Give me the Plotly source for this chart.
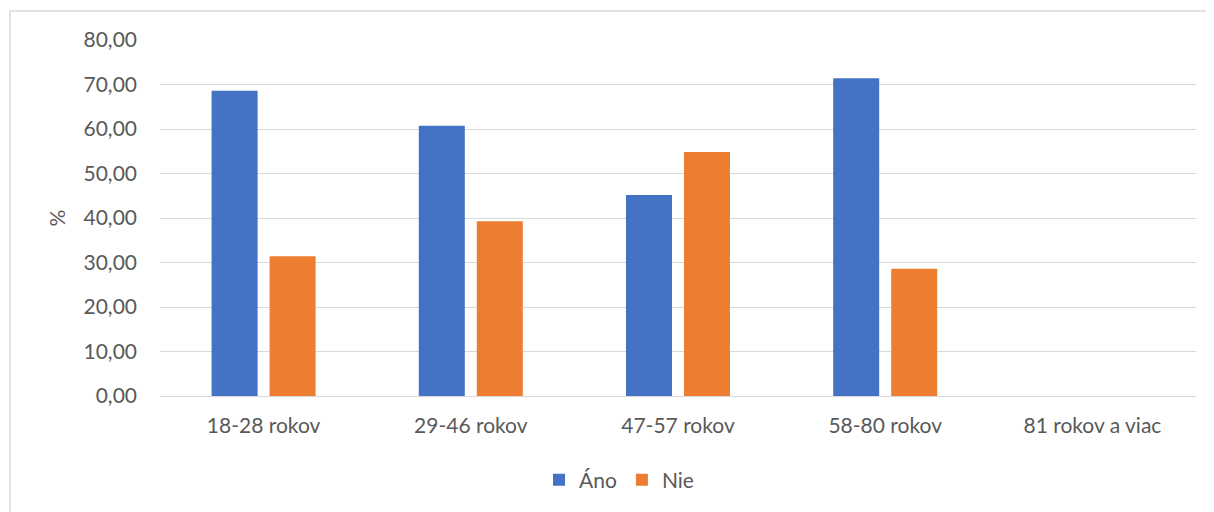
import plotly.graph_objects as go

categories = ["18-28 rokov", "29-46 rokov", "47-57 rokov", "58-80 rokov", "81 rokov a viac"]
ano = [68.57, 60.71, 45.16, 71.43, None]
nie = [31.43, 39.29, 54.84, 28.57, None]
y_ticks = [0, 10, 20, 30, 40, 50, 60, 70, 80]
y_tick_labels = ["0,00", "10,00", "20,00", "30,00", "40,00", "50,00", "60,00", "70,00", "80,00"]

FONT = "Lato, Open Sans, sans-serif"
TXT = "#595959"
FS = 21

# page body has an 8px default margin, so figure coords are offset by 8px
L, T, PW, PH = 152, 32, 1036, 356
W, H = 1214, 512

fig = go.Figure()
fig.add_trace(go.Bar(name="Áno", x=categories, y=ano, marker=dict(color="#4472C4", line=dict(width=0))))
fig.add_trace(go.Bar(name="Nie", x=categories, y=nie, marker=dict(color="#ED7D31", line=dict(width=0))))

fig.update_layout(
    width=W, height=H,
    margin=dict(l=L, r=W - L - PW, t=T, b=H - T - PH, autoexpand=False),
    paper_bgcolor="white", plot_bgcolor="white",
    barmode="group", bargap=0.44, bargroupgap=0.207,
    font=dict(family=FONT, size=FS, color=TXT),
    showlegend=True,
    legend=dict(orientation="h", xref="container", x=611 / W, xanchor="center",
                yref="container", y=1 - 472 / H, yanchor="middle",
                font=dict(size=FS, color=TXT), itemwidth=30, traceorder="normal"),
    xaxis=dict(showgrid=False, showline=False, ticks="", tickfont=dict(size=FS, color=TXT),
               ticklabelstandoff=15, automargin=False, fixedrange=True),
    yaxis=dict(range=[0, 80], tickvals=y_ticks, ticktext=y_tick_labels, showgrid=True,
               gridcolor="#D9D9D9", gridwidth=1, zeroline=True, zerolinecolor="#D9D9D9", zerolinewidth=1,
               ticks="", ticklabelstandoff=22, tickfont=dict(size=FS, color=TXT), automargin=False,
               title=dict(text="%", font=dict(size=FS, color=TXT), standoff=12)),
    shapes=[dict(type="rect", xref="paper", yref="paper",
                 x0=(2 - L) / PW, x1=1.05, y0=-0.5, y1=(T + PH - 3) / PH,
                 line=dict(color="#D9D9D9", width=1.5), fillcolor="rgba(0,0,0,0)", layer="below")],
)

fig.write_html("out.html")
